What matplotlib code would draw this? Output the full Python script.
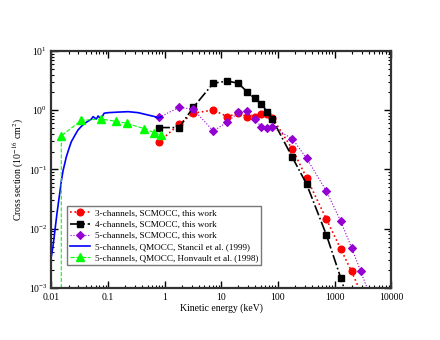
import matplotlib; matplotlib.use("Agg")
import matplotlib.pyplot as plt
import numpy as np

# --- cross sections (1e-16 cm^2) vs kinetic energy (keV) ---
e_sc = [0.8, 1.8, 3.2, 7.2, 12.8, 20, 28.8, 39.2, 51.2, 64.8, 80,
        180, 320, 720, 1280, 2000, 2880, 3920]
ch3 = [0.295, 0.58, 0.89, 1.01, 0.78, 0.89, 0.78, 0.78, 0.85, 0.85, 0.74,
       0.22, 0.073, 0.0144, 0.0046, 0.0019, 0.00086]
ch4 = [0.51, 0.51, 1.12, 2.85, 3.12, 2.85, 2.03, 1.58, 1.27, 0.95, 0.70,
       0.16, 0.057, 0.0078, 0.0015, 0.0004]
ch5 = [0.76, 1.12, 1.04, 0.447, 0.63, 0.92, 0.98, 0.71, 0.515, 0.51, 0.515,
       0.33, 0.155, 0.043, 0.0135, 0.0048, 0.00194, 0.0009]

# Stancil et al. (1999), QMOCC
e_st = [0.0100, 0.0106, 0.0112, 0.0118, 0.0125, 0.0133, 0.0141, 0.0150, 0.0160,
        0.0183, 0.0205, 0.0224, 0.0260, 0.0294, 0.0340, 0.0387, 0.0450, 0.0507,
        0.0543, 0.0585, 0.0621, 0.0665, 0.0700, 0.0738, 0.0800, 0.085, 0.100,
        0.150, 0.226, 0.340, 0.510, 0.670, 0.770, 0.877]
s_st = [0.0035, 0.0050, 0.0075, 0.0115, 0.018, 0.028, 0.042, 0.066, 0.095,
        0.164, 0.23, 0.294, 0.38, 0.464, 0.54, 0.60, 0.66, 0.71,
        0.78, 0.74, 0.71, 0.80, 0.76, 0.74, 0.80, 0.89, 0.91,
        0.93, 0.946, 0.91, 0.83, 0.78, 0.74, 0.78]

# Honvault et al. (1998), QMOCC
e_ho = [0.0149, 0.0149, 0.0337, 0.076, 0.14, 0.217, 0.434, 0.65, 0.857]
s_ho = [1e-5, 0.37, 0.676, 0.71, 0.65, 0.60, 0.49, 0.42, 0.38]

plt.rcParams['font.family'] = ['Liberation Serif', 'DejaVu Serif']
plt.rcParams['mathtext.fontset'] = 'stix'

fig = plt.figure(figsize=(4.4, 3.4), dpi=100)
ax = fig.add_axes([0.117, 0.153, 0.772, 0.697])

RED, BLK, VIO, BLU, GRN = "#ff0000", "#000000", "#9400d3", "#0000ff", "#00ff00"

ax.plot(e_sc[:len(ch3)], ch3, ':', color=RED, lw=1.2, marker='o', ms=4.8,
        label='3-channels, SCMOCC, this work')
ax.plot(e_sc[:len(ch4)], ch4, '-.', color=BLK, lw=1.2, marker='s', ms=4.8,
        label='4-channels, SCMOCC, this work')
ax.plot(e_sc, ch5, ':', color=VIO, lw=0.8, marker='D', ms=4.0,
        markeredgewidth=0.8, label='5-channels, SCMOCC, this work')
ax.plot(e_st, s_st, '-', color=BLU, lw=1.2,
        label='5-channels, QMOCC, Stancil et al. (1999)')
ax.plot(e_ho, s_ho, '--', color=GRN, lw=0.8, marker='^', ms=5.2,
        markevery=range(1, len(e_ho)),
        label='5-channels, QMOCC, Honvault et al. (1998)')

ax.set_xscale('log'); ax.set_yscale('log')
ax.set_xlim(0.01, 10000); ax.set_ylim(1e-3, 10)
ax.set_xticks([0.01, 0.1, 1, 10, 100, 1000, 10000])
ax.set_xticklabels(['0.01', '0.1', '1', '10', '100', '1000', '10000'])
ax.tick_params(which='both', direction='in', top=True, right=True, labelsize=7)
ax.tick_params(axis='x', pad=3.5)
ax.tick_params(axis='y', pad=3)
ax.tick_params(which='major', length=5, width=1)
ax.tick_params(which='minor', length=2.5, width=0.8)
for s in ax.spines.values():
    s.set_linewidth(1.6); s.set_color('#333333')

ax.set_xlabel('Kinetic energy (keV)', fontsize=7, labelpad=1)
ax.set_ylabel(r'Cross section (10$^{-16}$ cm$^{2}$)', fontsize=7, labelpad=2)

leg = ax.legend(loc='lower left', bbox_to_anchor=(0.045, 0.095), fontsize=6.6,
                frameon=True, fancybox=False, handlelength=2.2, borderpad=0.35,
                labelspacing=0.3, handletextpad=0.5, borderaxespad=0)
leg.get_frame().set_edgecolor('#555555'); leg.get_frame().set_linewidth(1.0)

fig.savefig("out.png", dpi=100)
